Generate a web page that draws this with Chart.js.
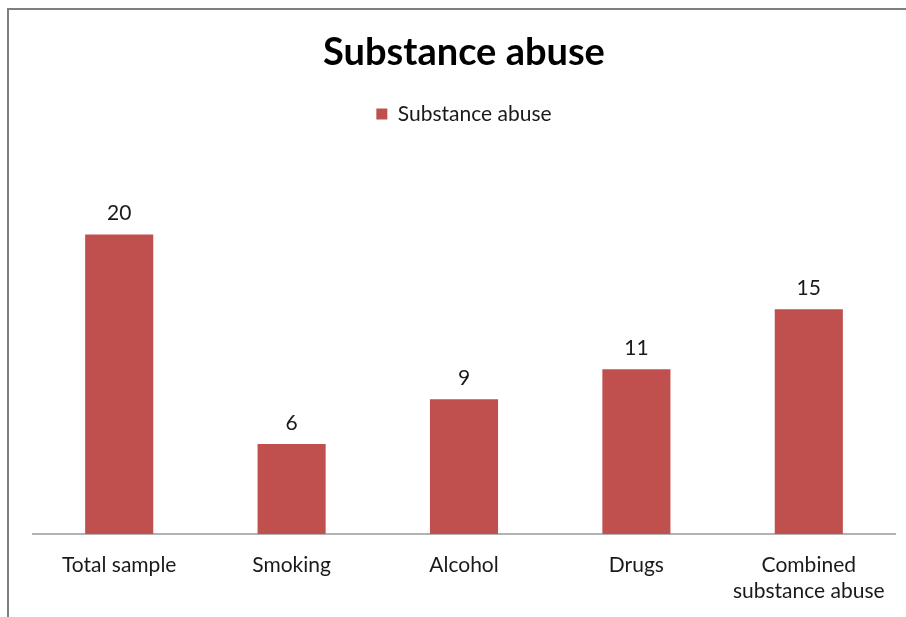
<!DOCTYPE html>
<html>
<head>
<meta charset="utf-8">
<script src="https://cdn.jsdelivr.net/npm/chart.js@4.4.1/dist/chart.umd.min.js"></script>
<style>
  html, body { margin: 0; padding: 0; background: #fff; overflow: hidden; }
  #wrap { position: relative; width: 906px; height: 622px; }
</style>
</head>
<body>
<div id="wrap"><canvas id="chart"></canvas></div>
<script>
const categories = ["Total sample", "Smoking", "Alcohol", "Drugs", ["Combined", "substance abuse"]];
const values = [20, 6, 9, 11, 15];
const seriesName = "Substance abuse";
const FONT = "Lato, 'Open Sans', sans-serif";

// grey frame around the chart (cropped at right and bottom)
const framePlugin = {
  id: "frame",
  beforeDraw(chart) {
    const ctx = chart.ctx;
    ctx.save();
    ctx.strokeStyle = "#7f7f7f";
    ctx.lineWidth = 2;
    ctx.beginPath();
    ctx.moveTo(8, chart.height);
    ctx.lineTo(8, 9);
    ctx.lineTo(chart.width, 9);
    ctx.stroke();
    ctx.restore();
  },
};

// extra room under the legend
const legendGap = {
  id: "legendGap",
  beforeInit(chart) {
    const fit = chart.legend.fit;
    chart.legend.fit = function () {
      fit.bind(chart.legend)();
      this.height += 25;
    };
  },
};

// value above each bar
const valueLabels = {
  id: "valueLabels",
  afterDatasetsDraw(chart) {
    const ctx = chart.ctx;
    const meta = chart.getDatasetMeta(0);
    ctx.save();
    ctx.font = "21px " + FONT;
    ctx.fillStyle = "#1a1a1a";
    ctx.textAlign = "center";
    ctx.textBaseline = "middle";
    meta.data.forEach((bar, i) => {
      ctx.fillText(String(values[i]), bar.x, bar.y - 21);
    });
    ctx.restore();
  },
};

new Chart(document.getElementById("chart"), {
  type: "bar",
  data: {
    labels: categories,
    datasets: [{
      label: seriesName,
      data: values,
      backgroundColor: "#C0504D",
      categoryPercentage: 1,
      barPercentage: 0.395,
    }],
  },
  options: {
    responsive: true,
    maintainAspectRatio: false,
    animation: false,
    layout: { padding: { left: 33, right: 11, top: 20, bottom: 0 } },
    plugins: {
      title: {
        display: true,
        text: "Substance abuse",
        color: "#000",
        font: { family: FONT, size: 38, weight: "bold" },
        padding: { top: 10, bottom: 18 },
      },
      legend: {
        display: true,
        labels: {
          boxWidth: 11,
          boxHeight: 11,
          color: "#1a1a1a",
          font: { family: FONT, size: 21 },
          padding: 10,
        },
      },
      tooltip: { enabled: false },
    },
    scales: {
      x: {
        grid: { display: false, tickLength: 0 },
        border: { display: true, color: "#B3B3B3", width: 2 },
        ticks: {
          color: "#1a1a1a",
          font: { family: FONT, size: 21, lineHeight: 1.24 },
          padding: 18,
          maxRotation: 0,
        },
      },
      y: {
        display: false,
        min: 0,
        max: 25,
      },
    },
  },
  plugins: [framePlugin, legendGap, valueLabels],
});
</script>
</body>
</html>
